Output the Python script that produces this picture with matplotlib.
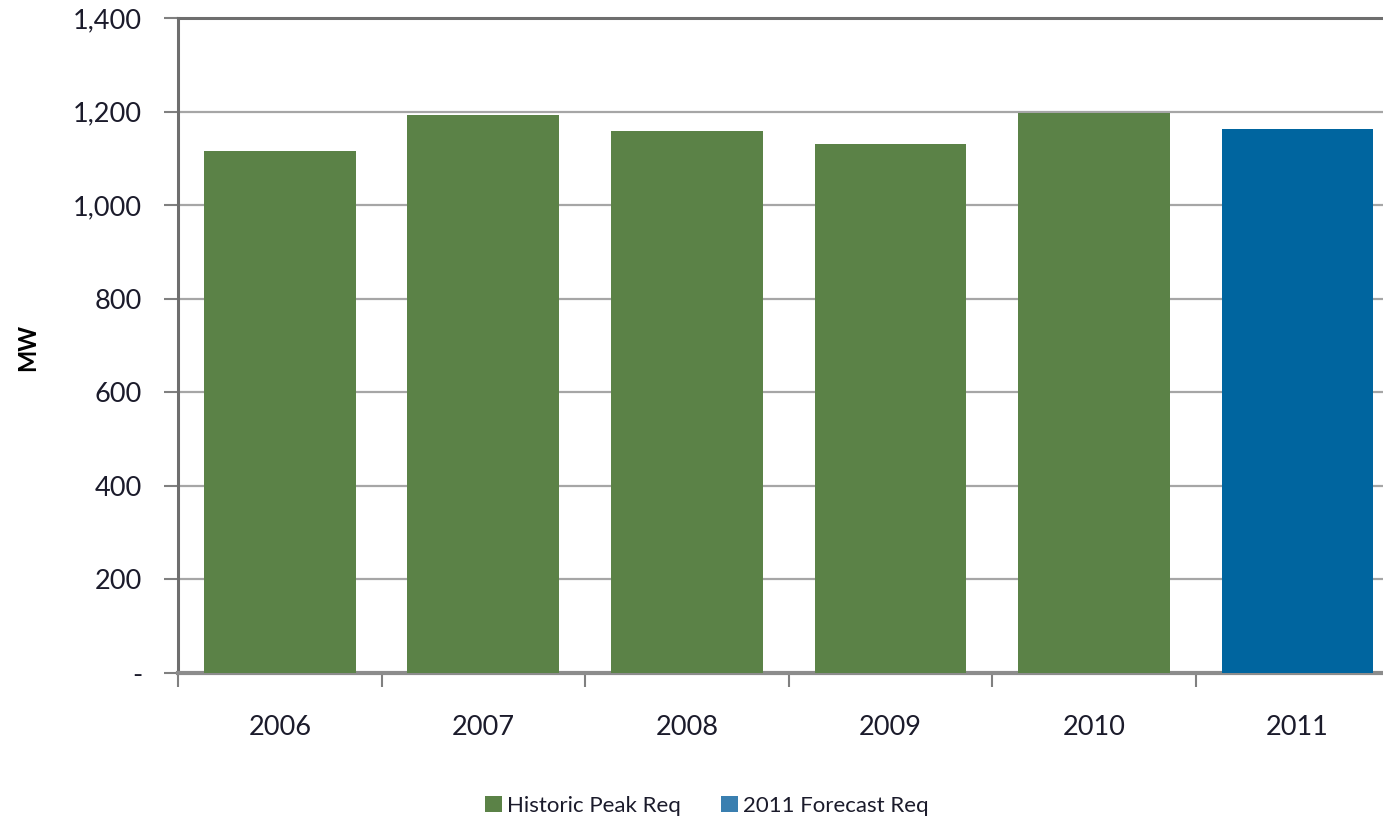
import numpy as np
import matplotlib.pyplot as plt
from matplotlib.ticker import FixedLocator, FuncFormatter
from matplotlib.patches import Patch

# --- Dados ---
anos = ["2006", "2007", "2008", "2009", "2010", "2011"]
historico = [1115, 1192, 1158, 1130, 1197]
previsao_2011 = [1162]
rotulos_y = ["-", "200", "400", "600", "800", "1,000", "1,200", "1,400"]

VERDE = '#5b8247'
AZUL = '#00659f'
COR_TEXTO = '#1b1b2b'

plt.rcParams['font.family'] = ['Lato', 'DejaVu Sans']

fig = plt.figure(figsize=(13.83, 8.22), dpi=100)
ax = fig.add_axes([178 / 1383, 1 - 673 / 822, 1 - 178 / 1383, (673 - 18) / 822])

x = np.arange(len(anos))
largura = 0.745
ax.bar(x[:len(historico)], historico, width=largura, color=VERDE, zorder=3)
ax.bar(x[len(historico):], previsao_2011, width=largura, color=AZUL, zorder=3)

ax.yaxis.set_major_locator(FixedLocator(np.arange(0, 1401, 200)))
ax.yaxis.set_major_formatter(FuncFormatter(lambda v, p: rotulos_y[int(round(v / 200))]))
ax.grid(axis='y', color='#a6a6a6', linewidth=1.6, zorder=0)
ax.set_axisbelow(True)

# ticks do eixo x nas fronteiras das categorias, rótulos no centro
ax.set_xticks(np.arange(-0.5, len(anos), 1.0))
ax.set_xticklabels([])
ax.set_xticks(x, minor=True)
ax.set_xticklabels(anos, minor=True)
ax.tick_params(axis='x', which='minor', length=0, pad=30, labelsize=19.5, labelcolor=COR_TEXTO)
ax.tick_params(axis='x', which='major', length=10, width=1.5, color='#808080', direction='out')
ax.tick_params(axis='y', length=10, width=1.5, color='#808080', direction='out',
               labelsize=19.5, labelcolor=COR_TEXTO, pad=16)

# limites depois dos ticks (o gráfico original está cortado à direita)
ax.set_ylim(0, 1400)
ax.set_xlim(-0.5, 5.42)

for lado in ['left', 'top']:
    ax.spines[lado].set_color('#6e6e6e')
    ax.spines[lado].set_linewidth(2.2)
ax.spines['bottom'].set_color('#8c8c8c')
ax.spines['bottom'].set_linewidth(3)
ax.spines['right'].set_visible(False)

ax.set_ylabel('MW', fontsize=17, fontweight='bold', color='black')
ax.yaxis.set_label_coords(-0.1155, 0.497)

legenda = [Patch(facecolor=VERDE, label='Historic Peak Req'),
           Patch(facecolor='#3a7fb0', label='2011 Forecast Req')]
fig.legend(handles=legenda, loc='center', bbox_to_anchor=(707 / 1383, 1 - 806 / 822),
           ncol=2, frameon=False, fontsize=16, handlelength=0.75, handleheight=0.75,
           handletextpad=0.25, columnspacing=1.8, labelcolor=COR_TEXTO)

fig.savefig('out.png', dpi=100)
